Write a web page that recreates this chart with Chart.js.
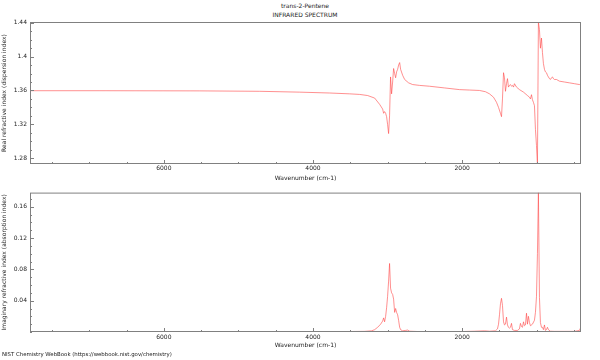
<!DOCTYPE html>
<html>
<head>
<meta charset="utf-8">
<script src="https://cdn.jsdelivr.net/npm/chart.js@4.4.1/dist/chart.umd.min.js"></script>
<style>
  html, body { margin: 0; padding: 0; background: #fff; }
  #wrap { position: relative; width: 600px; height: 360px; font-family: 'DejaVu Sans', sans-serif; color: #222; }
  canvas { position: absolute; left: 0; }
  .txt { position: absolute; white-space: nowrap; }
</style>
</head>
<body>
<div id="wrap">
  <div class="txt" id="title1" style="left:0;width:610px;text-align:center;top:2px;font-size:6px;">trans-2-Pentene</div>
  <div class="txt" id="title2" style="left:0;width:610px;text-align:center;top:11px;font-size:6px;">INFRARED SPECTRUM</div>
  <canvas id="realChart" width="600" height="188" style="top:0"></canvas>
  <canvas id="imagChart" width="600" height="164" style="top:186px"></canvas>
  <div class="txt" id="footer" style="left:2px;top:351px;font-size:5.4px;">NIST Chemistry WebBook (https://webbook.nist.gov/chemistry)</div>
</div>
<script>
// --- data (wavenumber in cm-1) ---
const realWn = [7795, 6857, 5518, 4714, 4178, 3776, 3508, 3374, 3267, 3173, 3106, 3066, 3053, 3040, 3026, 3013, 3000, 2986, 2973, 2960, 2946, 2932, 2919, 2905, 2892, 2879, 2865, 2852, 2838, 2825, 2798, 2771, 2718, 2664, 2571, 2437, 2236, 2035, 1901, 1767, 1687, 1633, 1579, 1539, 1512, 1486, 1472, 1459, 1445, 1432, 1419, 1405, 1392, 1379, 1365, 1352, 1338, 1325, 1311, 1298, 1271, 1231, 1177, 1124, 1097, 1084, 1070, 1057, 1044, 1030, 1017, 1003, 990, 977, 963, 950, 936, 923, 910, 896, 883, 869, 856, 843, 829, 816, 802, 789, 776, 762, 735, 695, 628, 561, 494, 427, 413];
const realN = [1.3597, 1.3597, 1.3595, 1.3590, 1.3580, 1.3570, 1.3560, 1.3553, 1.3540, 1.3510, 1.3435, 1.3380, 1.3330, 1.3350, 1.3330, 1.3290, 1.3200, 1.3090, 1.3300, 1.3760, 1.3560, 1.3700, 1.3860, 1.3800, 1.3750, 1.3820, 1.3850, 1.3900, 1.3930, 1.3850, 1.3780, 1.3730, 1.3690, 1.3670, 1.3660, 1.3650, 1.3630, 1.3610, 1.3605, 1.3600, 1.3585, 1.3560, 1.3520, 1.3460, 1.3400, 1.3330, 1.3290, 1.3500, 1.3810, 1.3750, 1.3590, 1.3680, 1.3740, 1.3640, 1.3660, 1.3670, 1.3650, 1.3660, 1.3640, 1.3680, 1.3640, 1.3610, 1.3580, 1.3540, 1.3520, 1.3500, 1.3550, 1.3490, 1.3460, 1.3420, 1.3140, 1.2950, 1.2730, 1.4410, 1.4320, 1.4100, 1.4220, 1.4050, 1.3920, 1.3850, 1.3820, 1.3810, 1.3780, 1.3760, 1.3740, 1.3730, 1.3750, 1.3760, 1.3740, 1.3730, 1.3730, 1.3710, 1.3700, 1.3690, 1.3680, 1.3670, 1.3680];

const imagWn = [7795, 4178, 3642, 3307, 3214, 3173, 3133, 3093, 3066, 3053, 3040, 3026, 3013, 3000, 2986, 2973, 2960, 2946, 2932, 2919, 2905, 2892, 2879, 2865, 2852, 2838, 2825, 2798, 2758, 2731, 2704, 2571, 2035, 1834, 1700, 1633, 1553, 1526, 1512, 1499, 1486, 1472, 1459, 1445, 1432, 1419, 1405, 1392, 1379, 1365, 1352, 1338, 1325, 1298, 1258, 1231, 1218, 1204, 1191, 1177, 1164, 1151, 1137, 1124, 1111, 1097, 1084, 1057, 1030, 1017, 1003, 990, 977, 963, 950, 936, 923, 910, 896, 883, 869, 856, 843, 816, 762, 628, 494, 427, 413];
const imagK = [0.0002, 0.0003, 0.0005, 0.0008, 0.0015, 0.003, 0.006, 0.010, 0.014, 0.018, 0.013, 0.020, 0.031, 0.045, 0.065, 0.0875, 0.056, 0.050, 0.048, 0.042, 0.025, 0.030, 0.025, 0.022, 0.015, 0.006, 0.003, 0.0015, 0.002, 0.0025, 0.001, 0.0005, 0.0005, 0.001, 0.0015, 0.001, 0.0015, 0.004, 0.010, 0.022, 0.036, 0.043, 0.034, 0.013, 0.009, 0.010, 0.019, 0.009, 0.006, 0.005, 0.006, 0.011, 0.003, 0.002, 0.002, 0.004, 0.011, 0.007, 0.006, 0.013, 0.008, 0.009, 0.024, 0.010, 0.020, 0.012, 0.008, 0.010, 0.015, 0.025, 0.045, 0.100, 0.178, 0.044, 0.012, 0.006, 0.006, 0.003, 0.009, 0.002, 0.003, 0.006, 0.003, 0.001, 0.0008, 0.0008, 0.0008, 0.002, 0.005];

const xMajor = [6000, 4000, 2000];
const realMajor = [1.28, 1.32, 1.36, 1.4, 1.44];
const imagMajor = [0.04, 0.08, 0.12, 0.16];

const wnMin = 406, wnMax = 7795;
const lineColor = 'rgba(255, 70, 70, 0.6)';
const axisColor = '#808080';
const fontFam = "'DejaVu Sans', sans-serif";

// frame + inward ticks, like the original plot
const framePlugin = {
  id: 'frame',
  afterDraw(chart, args, opts) {
    const { ctx, chartArea: a, scales } = chart;
    ctx.save();
    ctx.strokeStyle = axisColor;
    ctx.lineWidth = 1;
    ctx.strokeRect(a.left + 0.5, a.top + 0.5, a.right - a.left - 1, a.bottom - a.top - 1);
    ctx.beginPath();
    for (let v = 500; v < wnMax; v += 500) {
      const px = Math.round(scales.x.getPixelForValue(v)) + 0.5;
      if (px < a.left || px > a.right) continue;
      const len = v % 2000 === 0 ? 4 : 2;
      ctx.moveTo(px, a.bottom); ctx.lineTo(px, a.bottom - len);
    }
    const y = scales.y;
    for (let i = 0; i <= 300; i++) {
      const v = Math.round(opts.yStart * 100 + i) / 100;
      if (v > y.max) break;
      if (v < y.min) continue;
      const py = Math.round(y.getPixelForValue(v)) + 0.5;
      const major = opts.major.some(m => Math.abs(m - v) < 1e-6);
      ctx.moveTo(a.left, py); ctx.lineTo(a.left + (major ? 4 : 2), py);
    }
    ctx.stroke();
    ctx.restore();
  }
};

function makeChart(id, xs, ys, yMin, yMax, yMajor, yTitle, padTop, areaBottom, xTickPad, xTitlePad) {
  const canvas = document.getElementById(id);
  return new Chart(canvas.getContext('2d'), {
    type: 'line',
    data: {
      datasets: [{
        data: xs.map((x, i) => ({ x: x, y: ys[i] })),
        borderColor: lineColor,
        borderWidth: 1,
        pointRadius: 0,
        tension: 0,
        fill: false
      }]
    },
    options: {
      responsive: false,
      animation: false,
      layout: { padding: { top: padTop, right: 19, left: 0, bottom: 0 } },
      plugins: {
        legend: { display: false },
        tooltip: { enabled: false },
        frame: { major: yMajor, yStart: Math.floor(yMin * 100) / 100 }
      },
      scales: {
        x: {
          type: 'linear',
          reverse: true,
          min: wnMin,
          max: wnMax,
          border: { display: false },
          grid: { display: false, drawTicks: false },
          afterBuildTicks: s => { s.ticks = xMajor.map(v => ({ value: v })); },
          afterFit: s => { s.height = canvas.height - areaBottom; },
          ticks: { padding: xTickPad, color: '#222', font: { family: fontFam, size: 6 }, maxRotation: 0, callback: v => String(v) },
          title: { display: true, text: 'Wavenumber (cm-1)', color: '#222', font: { family: fontFam, size: 6 }, padding: { top: 0, bottom: xTitlePad } }
        },
        y: {
          type: 'linear',
          min: yMin,
          max: yMax,
          border: { display: false },
          grid: { display: false, drawTicks: false },
          afterBuildTicks: s => { s.ticks = yMajor.map(v => ({ value: v })); },
          afterFit: s => { s.width = 30; },
          ticks: { padding: 3, color: '#222', font: { family: fontFam, size: 6 }, callback: v => String(Number(v.toFixed(2))) },
          title: { display: true, text: yTitle, color: '#222', font: { family: fontFam, size: 6 }, padding: { top: 1, bottom: 0 } }
        }
      }
    },
    plugins: [framePlugin]
  });
}

makeChart('realChart', realWn, realN, 1.273, 1.441, realMajor, 'Real refractive index (dispersion index)', 22, 164, 1, 6);
makeChart('imagChart', imagWn, imagK, 0, 0.178, imagMajor, 'Imaginary refractive index (absorption index)', 3, 146, 2, 1);
</script>
</body>
</html>
